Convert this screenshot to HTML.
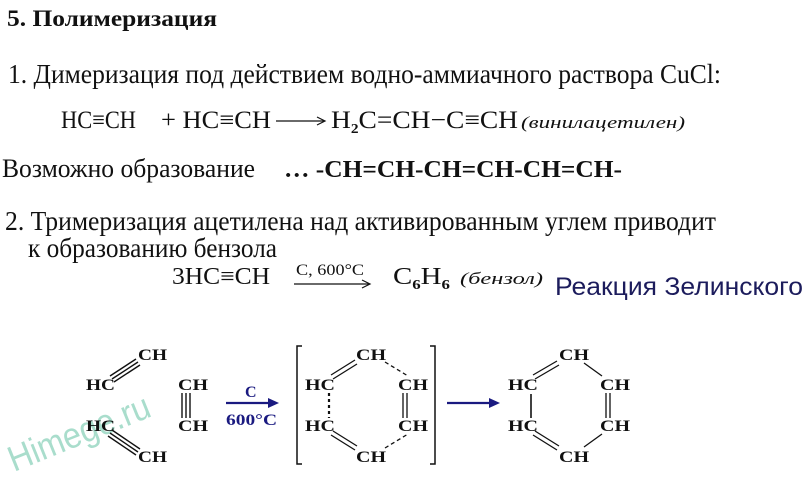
<!DOCTYPE html>
<html><head><meta charset="utf-8"><style>
html,body{margin:0;padding:0;background:#fff;width:812px;height:482px;overflow:hidden}
svg{display:block}
.s{font-family:"Liberation Serif","Times New Roman",serif;fill:#111}
.b{font-weight:bold}
.l{font-family:"Liberation Serif",serif;font-weight:bold;font-size:16px;fill:#111}
</style></head><body>
<svg width="812" height="482" viewBox="0 0 812 482" xmlns="http://www.w3.org/2000/svg">
<text class="s b" x="7" y="26" font-size="23" textLength="210" lengthAdjust="spacingAndGlyphs">5. Полимеризация</text>
<text class="s" x="8" y="83" font-size="27" textLength="713" lengthAdjust="spacingAndGlyphs">1. Димеризация под действием водно-аммиачного раствора CuCl:</text>
<text class="s" x="61" y="128" font-size="25" textLength="75" lengthAdjust="spacingAndGlyphs">HC≡CH</text>
<text class="s" x="161" y="128" font-size="25" textLength="110" lengthAdjust="spacingAndGlyphs">+ HC≡CH</text>
<line x1="276" y1="121" x2="324" y2="121" stroke="#111" stroke-width="1.3"/>
<path d="M317 117 L325 121 L317 125" fill="none" stroke="#111" stroke-width="1.2"/>
<text class="s" x="331" y="128" font-size="25" textLength="187" lengthAdjust="spacingAndGlyphs">H<tspan font-size="14" dy="5" font-weight="bold">2</tspan><tspan dy="-5">C=CH−C≡CH</tspan></text>
<text class="s" x="521" y="128" font-size="17" font-style="italic" textLength="164" lengthAdjust="spacingAndGlyphs">(винилацетилен)</text>
<text class="s" x="2" y="177" font-size="26" textLength="253" lengthAdjust="spacingAndGlyphs">Возможно образование</text>
<text class="s b" x="284" y="177" font-size="24" textLength="338" lengthAdjust="spacingAndGlyphs">… -CH=CH-CH=CH-CH=CH-</text>
<text class="s" x="5" y="230" font-size="27" textLength="711" lengthAdjust="spacingAndGlyphs">2. Тримеризация ацетилена над активированным углем приводит</text>
<text class="s" x="28" y="257" font-size="27" textLength="249" lengthAdjust="spacingAndGlyphs">к образованию бензола</text>
<text class="s" x="172" y="284" font-size="24" textLength="98" lengthAdjust="spacingAndGlyphs">3HC≡CH</text>
<text class="s" x="296" y="275" font-size="16" textLength="68" lengthAdjust="spacingAndGlyphs">C, 600°C</text>
<line x1="294" y1="284" x2="369" y2="284" stroke="#111" stroke-width="1.2"/>
<path d="M362 280 L370 284 L362 288" fill="none" stroke="#111" stroke-width="1.2"/>
<text class="s" x="393" y="284" font-size="24" textLength="57" lengthAdjust="spacingAndGlyphs">C<tspan font-size="14" dy="5" font-weight="bold">6</tspan><tspan dy="-5">H</tspan><tspan font-size="14" dy="5" font-weight="bold">6</tspan></text>
<text class="s" x="460" y="284" font-size="17" font-style="italic" textLength="83" lengthAdjust="spacingAndGlyphs">(бензол)</text>
<text x="555" y="295" font-family="Liberation Sans,sans-serif" font-size="25" fill="#1c1c5c" textLength="248" lengthAdjust="spacingAndGlyphs">Реакция Зелинского</text>

<text x="14" y="472" font-family="Liberation Sans,sans-serif" font-size="36" fill="#a9ddcc" transform="rotate(-22 14 472)" textLength="150" lengthAdjust="spacingAndGlyphs">Himege.ru</text>

<g class="l">
<text x="138" y="360" textLength="29" lengthAdjust="spacingAndGlyphs">CH</text>
<text x="86" y="390" textLength="29" lengthAdjust="spacingAndGlyphs">HC</text>
<text x="178" y="390" textLength="30" lengthAdjust="spacingAndGlyphs">CH</text>
<text x="178" y="431" textLength="30" lengthAdjust="spacingAndGlyphs">CH</text>
<text x="86" y="431" textLength="29" lengthAdjust="spacingAndGlyphs">HC</text>
<text x="138" y="462" textLength="29" lengthAdjust="spacingAndGlyphs">CH</text>
</g>
<g stroke="#111" stroke-width="1.4">
<line x1="110" y1="376" x2="136" y2="359"/><line x1="112" y1="379" x2="138" y2="362"/><line x1="114" y1="382" x2="140" y2="365"/>
<line x1="182" y1="393" x2="182" y2="418"/><line x1="186" y1="393" x2="186" y2="418"/><line x1="190" y1="393" x2="190" y2="418"/>
<line x1="108" y1="436" x2="136" y2="455"/><line x1="110" y1="433" x2="138" y2="452"/><line x1="112" y1="430" x2="140" y2="449"/>
</g>
<text x="245" y="397" font-family="Liberation Serif,serif" font-weight="bold" font-size="16" fill="#1a1a80">C</text>
<line x1="226" y1="403" x2="274" y2="403" stroke="#1a1a80" stroke-width="2.2"/>
<path d="M268 398 L279 403 L268 408 Z" fill="#1a1a80"/>
<text x="226" y="425" font-family="Liberation Serif,serif" font-weight="bold" font-size="16" fill="#1a1a80" textLength="51" lengthAdjust="spacingAndGlyphs">600°C</text>
<path d="M302 346 L297 346 L297 464 L302 464" fill="none" stroke="#111" stroke-width="1.5"/>
<path d="M430 346 L435 346 L435 464 L430 464" fill="none" stroke="#111" stroke-width="1.5"/>
<g class="l">
<text x="356" y="360" textLength="30" lengthAdjust="spacingAndGlyphs">CH</text>
<text x="305" y="390" textLength="30" lengthAdjust="spacingAndGlyphs">HC</text>
<text x="398" y="390" textLength="30" lengthAdjust="spacingAndGlyphs">CH</text>
<text x="305" y="431" textLength="30" lengthAdjust="spacingAndGlyphs">HC</text>
<text x="398" y="431" textLength="30" lengthAdjust="spacingAndGlyphs">CH</text>
<text x="356" y="462" textLength="30" lengthAdjust="spacingAndGlyphs">CH</text>
</g>
<g stroke="#111" stroke-width="1.3" fill="none">
<line x1="331" y1="375" x2="355" y2="360"/><line x1="333" y1="379" x2="357" y2="364"/>
<line x1="385" y1="362" x2="408" y2="376" stroke-dasharray="4 3"/>
<line x1="329" y1="393" x2="329" y2="418" stroke-width="2.2" stroke-dasharray="3 3"/>
<line x1="403" y1="393" x2="403" y2="418"/><line x1="407" y1="393" x2="407" y2="418"/>
<line x1="331" y1="435" x2="355" y2="450"/><line x1="333" y1="431" x2="357" y2="446"/>
<line x1="385" y1="448" x2="408" y2="434" stroke-dasharray="4 3"/>
</g>
<line x1="447" y1="403" x2="494" y2="403" stroke="#1a1a80" stroke-width="2.2"/>
<path d="M489 398 L500 403 L489 408 Z" fill="#1a1a80"/>
<g class="l">
<text x="559" y="360" textLength="30" lengthAdjust="spacingAndGlyphs">CH</text>
<text x="508" y="390" textLength="30" lengthAdjust="spacingAndGlyphs">HC</text>
<text x="600" y="390" textLength="30" lengthAdjust="spacingAndGlyphs">CH</text>
<text x="508" y="431" textLength="30" lengthAdjust="spacingAndGlyphs">HC</text>
<text x="600" y="431" textLength="30" lengthAdjust="spacingAndGlyphs">CH</text>
<text x="559" y="462" textLength="30" lengthAdjust="spacingAndGlyphs">CH</text>
</g>
<g stroke="#111" stroke-width="1.3" fill="none">
<line x1="533" y1="375" x2="557" y2="361"/><line x1="535" y1="379" x2="559" y2="365"/>
<line x1="584" y1="363" x2="602" y2="376"/>
<line x1="531" y1="394" x2="531" y2="418" stroke-width="1.6"/>
<line x1="606" y1="393" x2="606" y2="418"/><line x1="610" y1="393" x2="610" y2="418"/>
<line x1="533" y1="435" x2="557" y2="450"/><line x1="535" y1="431" x2="559" y2="446"/>
<line x1="584" y1="447" x2="602" y2="434"/>
</g>
</svg>
</body></html>
